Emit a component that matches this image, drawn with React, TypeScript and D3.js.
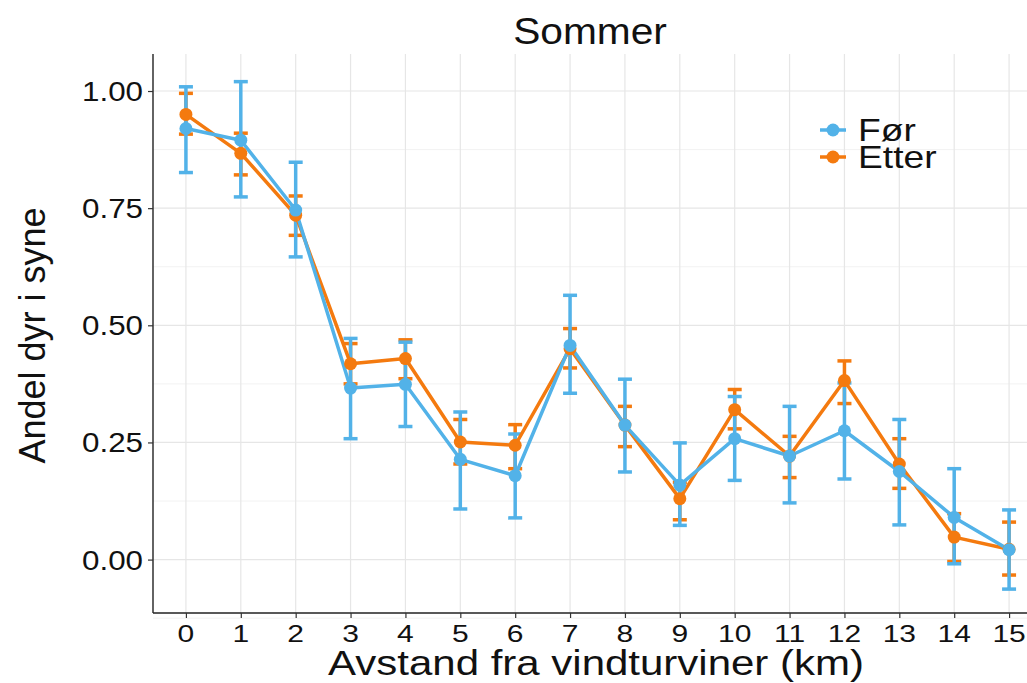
import React, { useRef, useEffect } from "react";
import * as d3 from "d3";

// distance from wind turbines (km)
const distances = [0, 1, 2, 3, 4, 5, 6, 7, 8, 9, 10, 11, 12, 13, 14, 15];

// Før (before)
const forMean = [0.92, 0.895, 0.746, 0.366, 0.374, 0.214, 0.179, 0.457, 0.287, 0.159, 0.258, 0.221, 0.275, 0.188, 0.09, 0.021];
const forLow = [0.826, 0.774, 0.646, 0.258, 0.284, 0.108, 0.089, 0.355, 0.187, 0.073, 0.169, 0.121, 0.172, 0.074, -0.009, -0.063];
const forHigh = [1.009, 1.02, 0.848, 0.472, 0.464, 0.315, 0.268, 0.564, 0.385, 0.249, 0.348, 0.327, 0.377, 0.299, 0.194, 0.106];

// Etter (after)
const etterMean = [0.95, 0.867, 0.735, 0.418, 0.429, 0.251, 0.244, 0.45, 0.287, 0.13, 0.32, 0.221, 0.382, 0.204, 0.048, 0.022];
const etterLow = [0.908, 0.821, 0.692, 0.375, 0.386, 0.204, 0.194, 0.409, 0.241, 0.085, 0.279, 0.175, 0.333, 0.152, -0.004, -0.033];
const etterHigh = [0.995, 0.91, 0.776, 0.461, 0.469, 0.299, 0.288, 0.493, 0.327, 0.165, 0.363, 0.263, 0.424, 0.258, 0.098, 0.08];

const yTicks = [0, 0.25, 0.5, 0.75, 1];
const yMinor = [-0.125, 0.125, 0.375, 0.625, 0.875];

const series = [
  { name: "Etter", color: "#F47A0F", mean: etterMean, low: etterLow, high: etterHigh },
  { name: "Før", color: "#52B2E8", mean: forMean, low: forLow, high: forHigh },
];
const legendOrder = ["Før", "Etter"];

const W = 1027;
const H = 683;
const FONT = "'Liberation Sans', Arial, sans-serif";
const INK = "#111";

export default function App() {
  const svgRef = useRef<SVGSVGElement>(null);

  useEffect(() => {
    const svg = d3.select(svgRef.current);
    svg.selectAll("*").remove();

    const x = d3.scaleLinear().domain([-0.6, 15.6]).range([153, 1042]);
    const y = d3.scaleLinear().domain([-0.114, 1.079]).range([613, 54]);
    const [left, right] = x.range();
    const [bottom, top] = y.range();

    // text helper, wide-ish glyphs like the source image
    const label = (g: any, tx: number, ty: number, txt: string, size: number, anchor: string, sx = 1) =>
      g.append("text")
        .attr("transform", `translate(${tx},${ty}) scale(${sx},1)`)
        .attr("text-anchor", anchor)
        .attr("font-family", FONT)
        .attr("font-size", size)
        .attr("fill", INK)
        .text(txt);

    svg.append("rect").attr("width", W).attr("height", H).attr("fill", "white");

    // grid
    const grid = svg.append("g");
    grid.selectAll(".ymin").data(yMinor).enter().append("line")
      .attr("x1", left).attr("x2", right)
      .attr("y1", d => y(d)).attr("y2", d => y(d))
      .attr("stroke", "#F2F2F2").attr("stroke-width", 1);
    grid.selectAll(".ymaj").data(yTicks).enter().append("line")
      .attr("x1", left).attr("x2", right)
      .attr("y1", d => y(d)).attr("y2", d => y(d))
      .attr("stroke", "#E6E6E6").attr("stroke-width", 1.2);
    grid.selectAll(".xmaj").data(distances).enter().append("line")
      .attr("y1", top).attr("y2", bottom)
      .attr("x1", d => x(d)).attr("x2", d => x(d))
      .attr("stroke", "#E6E6E6").attr("stroke-width", 1.2);

    // axes
    const yAxis = svg.append("g")
      .attr("transform", `translate(${left},0)`)
      .call(d3.axisLeft(y).tickValues(yTicks).tickFormat(() => "").tickSize(5));
    const xAxis = svg.append("g")
      .attr("transform", `translate(0,${bottom})`)
      .call(d3.axisBottom(x).tickValues(distances).tickFormat(() => "").tickSize(5));
    [yAxis, xAxis].forEach(a => {
      a.select(".domain").attr("stroke", "#222").attr("stroke-width", 1.4);
      a.selectAll(".tick line").attr("stroke", "#333").attr("stroke-width", 1.2);
    });
    yAxis.select(".domain").attr("d", `M0,${top}V${bottom}`);
    xAxis.select(".domain").attr("d", `M${left},0H${right}`);

    const fmt = d3.format(".2f");
    yTicks.forEach(t => label(svg, left - 10, y(t) + 10, fmt(t), 28, "end", 1.12));
    distances.forEach(d => label(svg, x(d), 642, String(d), 24, "middle", 1.25));

    const capW = 7;

    // error bars
    series.forEach(s => {
      const g = svg.append("g").attr("stroke", s.color).attr("stroke-width", 3.5).attr("fill", "none");
      distances.forEach((d, i) => {
        const cx = x(d);
        g.append("line").attr("x1", cx).attr("x2", cx).attr("y1", y(s.low[i])).attr("y2", y(s.high[i]));
        g.append("line").attr("x1", cx - capW).attr("x2", cx + capW).attr("y1", y(s.low[i])).attr("y2", y(s.low[i]));
        g.append("line").attr("x1", cx - capW).attr("x2", cx + capW).attr("y1", y(s.high[i])).attr("y2", y(s.high[i]));
      });
    });

    // lines
    const line = d3.line<number>().x((_, i) => x(distances[i])).y(v => y(v));
    series.forEach(s => {
      svg.append("path").datum(s.mean)
        .attr("d", line)
        .attr("fill", "none")
        .attr("stroke", s.color)
        .attr("stroke-width", 3.5)
        .attr("stroke-linejoin", "round");
    });

    // points
    series.forEach(s => {
      svg.append("g").selectAll("circle").data(s.mean).enter().append("circle")
        .attr("cx", (_, i) => x(distances[i]))
        .attr("cy", v => y(v))
        .attr("r", 6.5)
        .attr("fill", s.color);
    });

    // titles
    label(svg, 590, 44, "Sommer", 37, "middle", 1.1);
    label(svg, 596, 675, "Avstand fra vindturviner (km)", 35, "middle", 1.2);
    svg.append("text")
      .attr("transform", `translate(45,${(top + bottom) / 2 + 2}) rotate(-90)`)
      .attr("text-anchor", "middle")
      .attr("font-family", FONT).attr("font-size", 36).attr("fill", INK)
      .text("Andel dyr i syne");

    // legend
    const legend = svg.append("g").attr("transform", "translate(820,130)");
    legendOrder.forEach((name, i) => {
      const s = series.find(t => t.name === name)!;
      const row = legend.append("g").attr("transform", `translate(0,${i * 27})`);
      row.append("line").attr("x1", 0).attr("x2", 26).attr("y1", 0).attr("y2", 0)
        .attr("stroke", s.color).attr("stroke-width", 3.5);
      row.append("circle").attr("cx", 13).attr("cy", 0).attr("r", 6.5).attr("fill", s.color);
      label(row, 38, 11, name, 31, "start", 1.2);
    });
  }, []);

  return (
    <div style={{ position: "fixed", left: 0, top: 0, width: W, height: H, overflow: "hidden" }}>
      <svg ref={svgRef} width={W} height={H} style={{ display: "block" }}></svg>
    </div>
  );
}
